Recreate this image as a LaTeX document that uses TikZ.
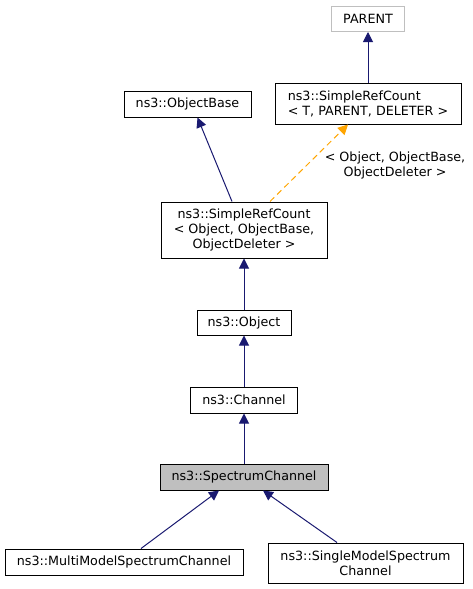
\documentclass[tikz,border=0pt]{standalone}
\usepackage{fontspec}
\setmainfont{DejaVu Sans}
\usetikzlibrary{arrows.meta}
\definecolor{edgeblue}{HTML}{191970}
\definecolor{boxgray}{HTML}{BFBFBF}
\definecolor{tmplorange}{HTML}{FFA500}
\begin{document}
\begin{tikzpicture}[x=1pt,y=-1pt,
  font=\fontsize{12.7}{15}\selectfont,
  cls/.style={draw=black,line width=1pt,inner sep=0pt,align=center,fill=white},
  inherit/.style={-{Triangle[length=10pt,width=10pt]},draw=edgeblue,line width=1pt},
  tmpl/.style={-{Triangle[length=10pt,width=10pt]},draw=tmplorange,line width=1pt,dash pattern=on 6pt off 4pt}]
\useasboundingbox (0,0) rectangle (473,589);
\node(parent) [cls,draw=boxgray,minimum width=73pt,minimum height=25pt] at (368,19) {PARENT};
\node(srct) [cls,align=left,minimum width=186pt,minimum height=41pt] at (368,103.5) {ns3::SimpleRefCount\\< T, PARENT, DELETER >};
\node(base) [cls,minimum width=127pt,minimum height=26pt] at (187.5,104) {ns3::ObjectBase};
\node(srco) [cls,minimum width=166pt,minimum height=56pt] at (244,230) {ns3::SimpleRefCount\\< Object, ObjectBase,\\ObjectDeleter >};
\node(object) [cls,minimum width=94pt,minimum height=25pt] at (244,322.5) {ns3::Object};
\node(channel) [cls,minimum width=107pt,minimum height=26pt] at (244,400) {ns3::Channel};
\node(spectrum) [cls,fill=boxgray,minimum width=168pt,minimum height=26pt] at (244,477) {ns3::SpectrumChannel};
\node(multi) [cls,minimum width=238pt,minimum height=26pt] at (124,562) {ns3::MultiModelSpectrumChannel};
\node(single) [cls,minimum width=195pt,minimum height=40pt] at (365.5,563) {ns3::SingleModelSpectrum\\Channel};
\draw[inherit] (srct) to (parent);
\draw[inherit] ([xshift=-12pt]srco.north) to ([xshift=10pt]base.south);
\draw[tmpl] ([xshift=26pt]srco.north) to node[align=center,anchor=center,xshift=86pt,yshift=-2pt] {< Object, ObjectBase,\\ObjectDeleter >} ([xshift=-20pt]srct.south);
\draw[inherit] (object) to (srco);
\draw[inherit] (channel) to (object);
\draw[inherit] (spectrum) to (channel);
\draw[inherit] ([xshift=17pt]multi.north) to ([xshift=-25pt]spectrum.south);
\draw[inherit] ([xshift=-28.5pt]single.north) to ([xshift=19pt]spectrum.south);
\end{tikzpicture}
\end{document}
